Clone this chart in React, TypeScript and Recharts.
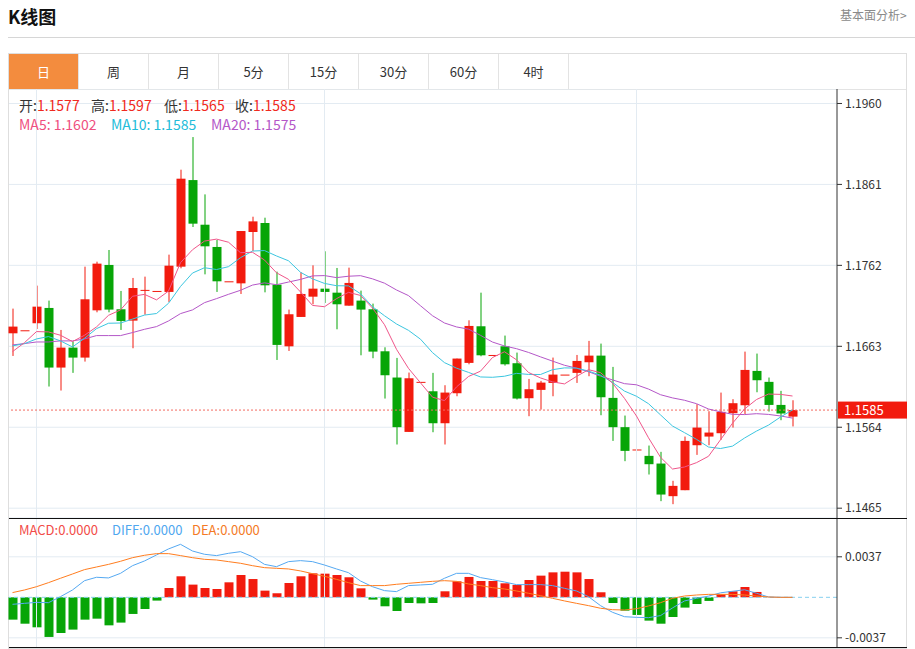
import React from 'react';
import {
  ComposedChart,
  Bar,
  Line,
  XAxis,
  YAxis,
  CartesianGrid,
  ReferenceLine,
  Cell,
} from 'recharts';

const FONT = '"Noto Sans CJK SC", "Noto Sans", sans-serif';
const RED = '#f21b0e';
const GREEN = '#07a507';
const GRID = '#e3ebf2';

// daily candles, oldest first
const opens = [
  1.16789, 1.16826, 1.16912, 1.17099, 1.1637, 1.16614, 1.16492, 1.1707, 1.17625, 1.17083,
  1.16944, 1.1731, 1.17307, 1.17295, 1.17604, 1.18663, 1.18117, 1.17845, 1.17425, 1.174,
  1.18028, 1.18138, 1.17384, 1.1663, 1.16989, 1.17237, 1.17335, 1.17286, 1.17127, 1.17189,
  1.17083, 1.16569, 1.16248, 1.15583, 1.16195, 1.1608, 1.15689, 1.16056, 1.16427, 1.16875,
  1.16524, 1.1663, 1.16423, 1.15995, 1.16097, 1.16182, 1.16284, 1.16305, 1.16435, 1.16516,
  1.15999, 1.15641, 1.15368, 1.1529, 1.15196, 1.14797, 1.1487, 1.1542, 1.15526, 1.15567,
  1.15812, 1.15909, 1.16329, 1.16195, 1.15913, 1.1577,
];
const highs = [
  1.17091, 1.16826, 1.17372, 1.17189, 1.1683, 1.16688, 1.17604, 1.17665, 1.17808, 1.17307,
  1.17466, 1.17482, 1.17307, 1.17751, 1.1879, 1.19189, 1.18488, 1.1793, 1.17425, 1.1804,
  1.18215, 1.18203, 1.17543, 1.17079, 1.17535, 1.1762, 1.17792, 1.17588, 1.17592, 1.17311,
  1.17152, 1.16618, 1.16488, 1.16309, 1.16195, 1.16305, 1.16154, 1.1648, 1.16948, 1.17286,
  1.16524, 1.16761, 1.16553, 1.16231, 1.16207, 1.16492, 1.16284, 1.16524, 1.16696, 1.16663,
  1.16378, 1.15783, 1.15368, 1.15416, 1.15339, 1.14985, 1.15526, 1.15922, 1.15836, 1.16064,
  1.15983, 1.16565, 1.16541, 1.16248, 1.16085, 1.1597,
];
const lows = [
  1.16512, 1.16826, 1.16842, 1.16138, 1.16089, 1.16305, 1.16443, 1.17046, 1.17046, 1.1683,
  1.16606, 1.17017, 1.17307, 1.17172, 1.17584, 1.18089, 1.1751, 1.17295, 1.17425, 1.1727,
  1.17796, 1.1729, 1.16463, 1.16573, 1.16989, 1.17144, 1.1716, 1.16838, 1.17127, 1.1652,
  1.16484, 1.15991, 1.15429, 1.15583, 1.16195, 1.15579, 1.15429, 1.16019, 1.1641, 1.16508,
  1.16524, 1.16394, 1.15979, 1.15775, 1.15856, 1.16019, 1.16284, 1.16182, 1.16264, 1.15787,
  1.15473, 1.15225, 1.15368, 1.15062, 1.14736, 1.14699, 1.1487, 1.15302, 1.1542, 1.15486,
  1.15636, 1.15799, 1.16068, 1.15832, 1.15726, 1.1565,
];
const closes = [
  1.16871, 1.16826, 1.17115, 1.1637, 1.16614, 1.16492, 1.17205, 1.17641, 1.17079, 1.1694,
  1.17343, 1.1732, 1.17307, 1.17616, 1.1868, 1.1813, 1.17853, 1.17425, 1.17425, 1.1804,
  1.18158, 1.17376, 1.16647, 1.17022, 1.1727, 1.17335, 1.17295, 1.17144, 1.17405, 1.17079,
  1.16565, 1.16276, 1.15641, 1.16239, 1.16195, 1.15689, 1.16064, 1.1648, 1.16879, 1.1652,
  1.16524, 1.1641, 1.15991, 1.16105, 1.16186, 1.16284, 1.16284, 1.16451, 1.16516, 1.16007,
  1.15641, 1.15351, 1.15368, 1.15188, 1.14817, 1.14923, 1.15473, 1.15636, 1.15575, 1.15828,
  1.15934, 1.16341, 1.16215, 1.15913, 1.15808, 1.1585,
];

const ma5 = [
  1.16565, 1.16675, 1.1681, 1.16806, 1.16765, 1.16688, 1.16765, 1.16867, 1.17009, 1.17075,
  1.17242, 1.17265, 1.17198, 1.17305, 1.17653, 1.17811, 1.17917, 1.17941, 1.17903, 1.17775,
  1.1778, 1.17685, 1.17529, 1.17449, 1.17295, 1.1713, 1.17114, 1.17213, 1.1729, 1.17252,
  1.17098, 1.16894, 1.16593, 1.1636, 1.16183, 1.16008, 1.15966, 1.16133, 1.16261, 1.16326,
  1.16493, 1.16563, 1.16465, 1.1631, 1.16243, 1.16195, 1.1617, 1.16262, 1.16344, 1.16308,
  1.1618, 1.15993, 1.15777, 1.15511, 1.15273, 1.15129, 1.15154, 1.15207, 1.15285, 1.15487,
  1.15689, 1.15863, 1.15979, 1.16046, 1.16042, 1.16022,
];
const ma10 = [
  1.16635, 1.16663, 1.1672, 1.16749, 1.16696, 1.16622, 1.16728, 1.16846, 1.16912, 1.16915,
  1.16963, 1.17012, 1.17031, 1.17156, 1.17362, 1.17526, 1.17591, 1.17569, 1.17604, 1.17714,
  1.17795, 1.17801, 1.17735, 1.17676, 1.17535, 1.17455, 1.17399, 1.17371, 1.17369, 1.17273,
  1.17114, 1.17004, 1.16903, 1.16825, 1.16717, 1.16553, 1.1643, 1.16363, 1.16311, 1.16255,
  1.16251, 1.16264, 1.16299, 1.16286, 1.16285, 1.16344, 1.16366, 1.16363, 1.16327, 1.16276,
  1.16188, 1.16082, 1.16019, 1.15928, 1.15791, 1.15655, 1.15574, 1.15492, 1.15398, 1.1538,
  1.15409, 1.15508, 1.15593, 1.15666, 1.15765, 1.15852,
];
const ma20 = [
  1.16647, 1.16663, 1.16683, 1.16683, 1.16696, 1.16696, 1.1672, 1.16761, 1.16761, 1.16761,
  1.16798, 1.16838, 1.16871, 1.1694, 1.1703, 1.17075, 1.17164, 1.17213, 1.17266, 1.17315,
  1.17379, 1.17406, 1.17383, 1.17416, 1.17448, 1.17491, 1.17495, 1.1747, 1.17487, 1.17494,
  1.17455, 1.17402, 1.17319, 1.1725, 1.17126, 1.17004, 1.16915, 1.16867, 1.1684, 1.16764,
  1.16682, 1.16634, 1.16601, 1.16555, 1.16501, 1.16449, 1.16398, 1.16363, 1.16319, 1.16265,
  1.16219, 1.16173, 1.16159, 1.16107, 1.16038, 1.15999, 1.1597, 1.15928, 1.15863, 1.15828,
  1.15798, 1.15795, 1.15806, 1.15797, 1.15778, 1.15752,
];

const macdHist = [
  -0.00204, -0.00241, -0.00274, -0.00362, -0.00326, -0.00295, -0.00204, -0.00195, -0.00256, -0.00231,
  -0.00152, -0.00107, -0.0003, 0.00085, 0.00192, 0.00116, 0.00085, 0.00076, 0.00137, 0.00204,
  0.00167, 0.00061, 0.00037, 0.00131, 0.00192, 0.00219, 0.00216, 0.00204, 0.00183, 0.00082,
  -0.00021, -0.00082, -0.00125, -0.00052, -0.00055, -0.00052, 0.00055, 0.00146, 0.00186, 0.00149,
  0.00149, 0.00128, 0.00113, 0.00158, 0.00198, 0.00228, 0.00234, 0.00228, 0.00167, 0.00046,
  -0.00052, -0.00122, -0.00161, -0.00213, -0.00241, -0.0018, -0.00094, -0.00061, -0.00033, 0.00027,
  0.00055, 0.00094, 0.00049, 0, 0, 0,
];
const diffLine = [
  -0.00064, -0.00055, -0.00046, -0.00049, 0.00006, 0.00067, 0.00152, 0.00183, 0.00177, 0.00219,
  0.00289, 0.00332, 0.00387, 0.00442, 0.00484, 0.00423, 0.00393, 0.00381, 0.00402, 0.00417,
  0.00371, 0.00301, 0.0028, 0.00326, 0.00335, 0.00326, 0.00295, 0.00259, 0.00225, 0.00149,
  0.00097, 0.00061, 0.00052, 0.00107, 0.00113, 0.00119, 0.00174, 0.00219, 0.00219, 0.0018,
  0.00161, 0.0014, 0.00116, 0.00116, 0.00116, 0.00107, 0.00082, 0.00058, 0.00006, -0.00076,
  -0.00137, -0.00177, -0.00183, -0.00186, -0.00167, -0.00097, -0.00033, -0.00009, 0.00011, 0.00041,
  0.00055, 0.00069, 0.00037, 0.00003, 0, 0,
];
const deaLine = [
  0.00043, 0.00067, 0.00097, 0.00134, 0.00174, 0.00213, 0.00253, 0.00277, 0.00301, 0.00329,
  0.00362, 0.00384, 0.00399, 0.00399, 0.00381, 0.00362, 0.00347, 0.00341, 0.00326, 0.00311,
  0.00289, 0.00271, 0.00265, 0.00259, 0.00241, 0.00216, 0.00192, 0.00164, 0.00134, 0.00107,
  0.00107, 0.00107, 0.00119, 0.00128, 0.00137, 0.00146, 0.00152, 0.00146, 0.00122, 0.00107,
  0.00088, 0.00076, 0.00058, 0.00037, 0.00015, -0.00009, -0.00033, -0.00055, -0.00076, -0.001,
  -0.00113, -0.00116, -0.00104, -0.00079, -0.00049, -0.00009, 0.00012, 0.00021, 0.00027, 0.00027,
  0.00027, 0.00021, 0.00012, 0.00003, 0, 0,
];

const priceTicks = [1.1465, 1.1564, 1.1663, 1.1762, 1.1861, 1.196];
const macdTicks = [-0.0037, 0.0037];
// candles that carry a vertical grid line
const gridX = [2, 26, 52];
const tabs = ['日', '周', '月', '5分', '15分', '30分', '60分', '4时'];
const lastBar = { open: 1.1577, high: 1.1597, low: 1.1565, close: 1.1585 };

const data = closes.map((close, i) => ({
  i,
  open: opens[i],
  high: highs[i],
  low: lows[i],
  close,
  ma5: ma5[i],
  ma10: ma10[i],
  ma20: ma20[i],
  macd: macdHist[i],
  diff: diffLine[i],
  dea: deaLine[i],
}));

function Candle(props: any) {
  const { x, y, width, height, payload } = props;
  if (x == null || y == null || !payload) return null;
  const { open, close, high, low } = payload;
  const top = Math.min(y, y + (height || 0));
  const h = Math.abs(height || 0);
  const k = high > low ? h / (high - low) : 0;
  const py = (v: number) => top + (high - v) * k;
  const color = close >= open ? RED : GREEN;
  const bt = py(Math.max(open, close));
  const bb = py(Math.min(open, close));
  const cx = x + width / 2;
  return (
    <g>
      <line x1={cx} x2={cx} y1={top} y2={top + h} stroke={color} strokeWidth={1} />
      <rect x={x} y={bt} width={width} height={Math.max(bb - bt, 1)} fill={color} />
    </g>
  );
}

function PriceTag(props: any) {
  const vb = props.viewBox || {};
  const right = Math.max(vb.x, vb.x + vb.width);
  const cy = vb.y;
  return (
    <g>
      <rect x={right + 1} y={cy - 8.5} width={69} height={17} fill={RED} />
      <text x={right + 7} y={cy} dy="0.36em" fill="#fff" fontSize={13} fontFamily={FONT}>
        {lastBar.close.toFixed(4)}
      </text>
    </g>
  );
}

const axisTick = { fontSize: 12, fill: '#333', fontFamily: FONT };

const abs = (left: number, top: number, extra: React.CSSProperties = {}): React.CSSProperties => ({
  position: 'absolute',
  left,
  top,
  whiteSpace: 'nowrap',
  ...extra,
});

export default function App() {
  const ohlc = [
    { k: '开', v: lastBar.open, x: 19 },
    { k: '高', v: lastBar.high, x: 91 },
    { k: '低', v: lastBar.low, x: 164 },
    { k: '收', v: lastBar.close, x: 235 },
  ];
  const maLabels = [
    { t: 'MA5: ', v: ma5[ma5.length - 1], c: '#ef4f7f', x: 19 },
    { t: 'MA10: ', v: ma10[ma10.length - 1], c: '#22bcd9', x: 111 },
    { t: 'MA20: ', v: ma20[ma20.length - 1], c: '#b457c8', x: 211 },
  ];
  const macdLabels = [
    { t: 'MACD:', v: macdHist[macdHist.length - 1], c: '#f24c48', x: 19 },
    { t: 'DIFF:', v: diffLine[diffLine.length - 1], c: '#4fa7ef', x: 112 },
    { t: 'DEA:', v: deaLine[deaLine.length - 1], c: '#f47a26', x: 192 },
  ];

  return (
    <div
      style={{
        position: 'absolute',
        left: 0,
        top: 0,
        width: 915,
        height: 649,
        background: '#fff',
        fontFamily: FONT,
        overflow: 'hidden',
      }}
    >
      <div style={abs(8, 4, { fontSize: 18, fontWeight: 700, color: '#111', lineHeight: '24px' })}>K线图</div>
      <div style={abs(840, 7, { fontSize: 12, color: '#8a8a8a', lineHeight: '16px' })}>基本面分析&gt;</div>
      <div style={abs(8, 37, { width: 907, height: 1, background: '#d6d6d6' })} />

      <div
        style={abs(8, 53, {
          width: 899,
          height: 596,
          border: '1px solid #dedede',
          boxSizing: 'border-box',
        })}
      />
      {tabs.map((t, i) => (
        <div
          key={t}
          style={abs(9 + i * 70, 54, {
            width: 70,
            height: 35,
            boxSizing: 'border-box',
            borderRight: '1px solid #e3e3e3',
            background: i === 0 ? '#f38c3e' : '#fff',
            color: i === 0 ? '#fff' : '#333',
            fontSize: 13,
            lineHeight: '35px',
            textAlign: 'center',
          })}
        >
          {t}
        </div>
      ))}
      <div style={abs(9, 89, { width: 897, height: 1, background: '#e3e3e3' })} />

      <div style={abs(0, 89)}>
        <ComposedChart width={907} height={429} data={data} margin={{ top: 0, right: 0, bottom: 0, left: 9 }}>
          <CartesianGrid vertical={false} stroke={GRID} />
          <XAxis dataKey="i" hide padding={{ left: -2.5, right: 38.5 }} />
          <YAxis
            orientation="right"
            width={70}
            domain={[1.1453, 1.19777]}
            allowDataOverflow
            ticks={priceTicks}
            interval={0}
            tickFormatter={(v: number) => v.toFixed(4)}
            tick={axisTick}
            tickSize={5}
            tickMargin={3}
            axisLine={{ stroke: '#333' }}
            tickLine={{ stroke: '#333' }}
          />
          {gridX.map((v) => (
            <ReferenceLine key={v} x={v} stroke={GRID} />
          ))}
          <ReferenceLine y={lastBar.close} stroke="#f36a60" strokeDasharray="2 2" label={<PriceTag />} />
          <Bar
            dataKey={(d: any) => [d.low, d.high]}
            barSize={9}
            shape={(p: any) => <Candle {...p} />}
            isAnimationActive={false}
          />
          <Line dataKey="ma20" stroke="#b457c8" strokeWidth={1} dot={false} activeDot={false} isAnimationActive={false} />
          <Line dataKey="ma10" stroke="#3cc6e0" strokeWidth={1} dot={false} activeDot={false} isAnimationActive={false} />
          <Line dataKey="ma5" stroke="#f0568a" strokeWidth={1} dot={false} activeDot={false} isAnimationActive={false} />
        </ComposedChart>
      </div>

      <div style={abs(0, 518)}>
        <ComposedChart width={907} height={130} data={data} margin={{ top: 0, right: 0, bottom: 0, left: 9 }}>
          <CartesianGrid vertical={false} stroke={GRID} />
          <XAxis dataKey="i" hide padding={{ left: -2.5, right: 38.5 }} />
          <YAxis
            orientation="right"
            width={70}
            domain={[-0.00463, 0.007245]}
            allowDataOverflow
            ticks={macdTicks}
            interval={0}
            tickFormatter={(v: number) => v.toFixed(4)}
            tick={axisTick}
            tickSize={5}
            tickMargin={3}
            axisLine={{ stroke: '#333' }}
            tickLine={{ stroke: '#333' }}
          />
          {gridX.map((v) => (
            <ReferenceLine key={v} x={v} stroke={GRID} />
          ))}
          <ReferenceLine y={0} stroke="#86d0ef" strokeDasharray="4 3" />
          <Bar dataKey="macd" barSize={9} isAnimationActive={false}>
            {data.map((d) => (
              <Cell key={d.i} fill={d.macd >= 0 ? RED : GREEN} />
            ))}
          </Bar>
          <Line dataKey="diff" stroke="#55a9f2" strokeWidth={1} dot={false} activeDot={false} isAnimationActive={false} />
          <Line dataKey="dea" stroke="#ff7d1f" strokeWidth={1} dot={false} activeDot={false} isAnimationActive={false} />
        </ComposedChart>
      </div>

      <div style={abs(9, 518, { width: 898, height: 1, background: '#111' })} />
      <div style={abs(9, 647, { width: 898, height: 1, background: '#111' })} />

      {ohlc.map((o) => (
        <div key={o.k} style={abs(o.x, 96, { fontSize: 14, lineHeight: '18px' })}>
          <span style={{ color: '#333' }}>{o.k}:</span>
          <span style={{ color: '#f02a20' }}>{o.v.toFixed(4)}</span>
        </div>
      ))}
      {maLabels.map((m) => (
        <div key={m.t} style={abs(m.x, 115, { fontSize: 14, lineHeight: '18px', color: m.c })}>
          {m.t}
          {m.v.toFixed(4)}
        </div>
      ))}
      {macdLabels.map((m) => (
        <div key={m.t} style={abs(m.x, 521, { fontSize: 13, lineHeight: '18px', color: m.c })}>
          {m.t}
          {Math.abs(m.v).toFixed(4)}
        </div>
      ))}
    </div>
  );
}
